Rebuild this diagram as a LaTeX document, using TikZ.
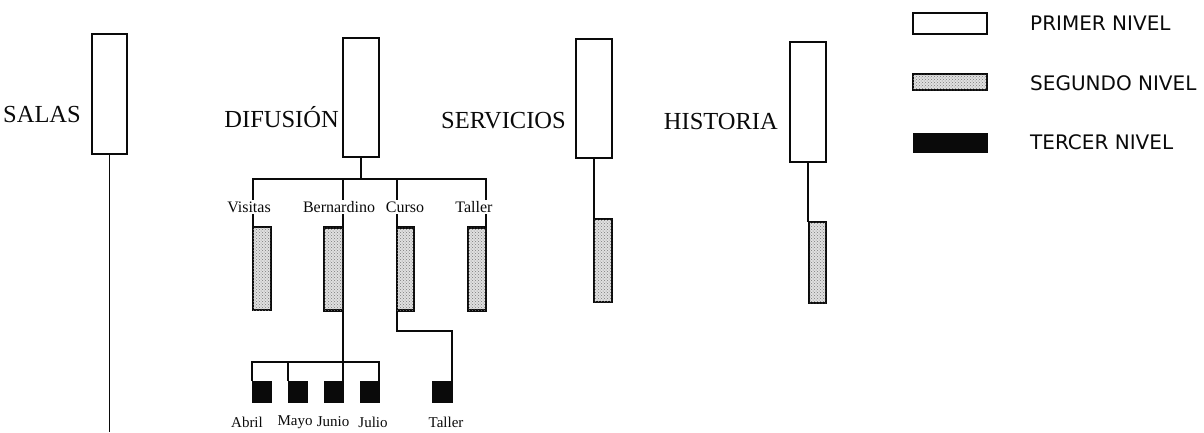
\documentclass[tikz,border=0pt]{standalone}
\usepackage{fontspec}
\setmainfont{Liberation Serif}
\newfontfamily\legendfont{DejaVu Sans}
\usepackage{tikz}
\usetikzlibrary{patterns,positioning}
\definecolor{Ink}{HTML}{0A0A0A}
\definecolor{Stipple}{HTML}{E0E0E0}
\definecolor{Speck}{HTML}{7A7A7A}
\tikzset{
  firstbox/.style={draw=Ink,line width=2pt,fill=white,inner sep=0pt,outer sep=0pt,minimum width=36pt,minimum height=119pt},
  secondbox/.style={draw=Ink,line width=2.4pt,fill=Stipple,inner sep=0pt,outer sep=0pt,minimum width=18pt,minimum height=83pt,
    postaction={pattern=crosshatch dots,pattern color=Speck}},
  thirdbox/.style={draw=Ink,fill=Ink,inner sep=0pt,outer sep=0pt,minimum width=19pt,minimum height=21pt},
  link/.style={draw=Ink,line width=1.8pt},
  toptext/.style={font=\fontsize{24.5}{28}\selectfont,text=Ink,inner sep=0pt},
  subtext/.style={font=\fontsize{16}{18}\selectfont,text=Ink,fill=white,inner sep=1.5pt},
  leaftext/.style={font=\fontsize{15}{17}\selectfont,text=Ink,inner sep=0pt},
  legtext/.style={font=\legendfont\fontsize{20}{24}\selectfont,text=Ink,anchor=west,inner sep=0pt}
}
\begin{document}
\begin{tikzpicture}[x=1pt,y=-1pt]
  \useasboundingbox (0,0) rectangle (1204,432);
  % primer nivel
  \node[firstbox,minimum width=35pt,minimum height=120pt] (salas) at (109.5,94) {};
  \node[firstbox] (difusion) at (361,97.5) {};
  \node[firstbox] (servicios) at (594,98.5) {};
  \node[firstbox,minimum height=120pt] (historia) at (808,102) {};
  \node[toptext,anchor=east] (salaslbl) at (81,115) {SALAS};
  \node[toptext,anchor=east] (difusionlbl) at (339,117) {DIFUSIÓN};
  \node[toptext,anchor=east] (servicioslbl) at (566,121) {SERVICIOS};
  \node[toptext,anchor=east] (historialbl) at (778,122) {HISTORIA};
  % segundo nivel
  \node[secondbox] (visitas) at (262,268.5) {};
  \node[secondbox,minimum width=19pt] (bernardino) at (333.5,269) {};
  \node[secondbox,minimum width=17pt] (curso) at (405.5,269) {};
  \node[secondbox] (tallerd) at (477,269) {};
  \node[secondbox] (servicios2) at (603,260.5) {};
  \node[secondbox,minimum width=17pt,minimum height=81pt] (historia2) at (817.5,262.5) {};
  % tercer nivel
  \node[thirdbox] (abril) at (261.5,391.5) {};
  \node[thirdbox] (mayo) at (297.5,391.5) {};
  \node[thirdbox] (junio) at (333.5,391.5) {};
  \node[thirdbox] (julio) at (369.5,391.5) {};
  \node[thirdbox,minimum width=20pt] (tallerc) at (442,391.5) {};
  % conexiones
  \coordinate (salasend) at (109.5,432);
  \coordinate (dbar) at (361,179);
  \coordinate (bbar) at (343,362);
  \coordinate (cbar) at (396,331);
  \draw[link] (salas.south) -- (salasend);
  \draw[link] (difusion.south) -- (dbar);
  \draw[link] (visitas.north west) |- (dbar -| tallerd.north east) -- (tallerd.north east);
  \draw[link] (bernardino.north east) -- (bernardino.north east |- dbar);
  \draw[link] (curso.north west) -- (curso.north west |- dbar);
  \draw[link] (bernardino.south east) -- (junio.north east);
  \draw[link] (abril.north west) |- (bbar -| julio.north east) -- (julio.north east);
  \draw[link] (mayo.north west) -- (mayo.north west |- bbar);
  \draw[link] (curso.south west) |- (cbar -| tallerc.north east) -- (tallerc.north east);
  \draw[link] (servicios.south) -- (servicios.south |- servicios2.north);
  \draw[link] (historia.south) -- (historia.south |- historia2.north);
  % etiquetas
  \node[subtext] (visitaslbl) at (249,207) {Visitas};
  \node[subtext] (bernardinolbl) at (339,207) {Bernardino};
  \node[subtext] (cursolbl) at (405,207) {Curso};
  \node[subtext] (tallerdlbl) at (474,207) {Taller};
  \node[leaftext] (abrillbl) at (247,422) {Abril};
  \node[leaftext] (mayolbl) at (295,422) {Mayo};
  \node[leaftext] (juniolbl) at (333,422) {Junio};
  \node[leaftext] (juliolbl) at (373,422) {Julio};
  \node[leaftext] (tallerclbl) at (446,422) {Taller};
  % leyenda
  \node[firstbox,minimum width=74pt,minimum height=21pt] (leg1) at (950,23.5) {};
  \node[secondbox,minimum width=74pt,minimum height=16pt] (leg2) at (950,82) {};
  \node[thirdbox,minimum width=74pt,minimum height=19pt] (leg3) at (950,142.5) {};
  \node[legtext] (leg1lbl) at (1030,23) {PRIMER NIVEL};
  \node[legtext] (leg2lbl) at (1030,83) {SEGUNDO NIVEL};
  \node[legtext] (leg3lbl) at (1030,142) {TERCER NIVEL};
\end{tikzpicture}
\end{document}
